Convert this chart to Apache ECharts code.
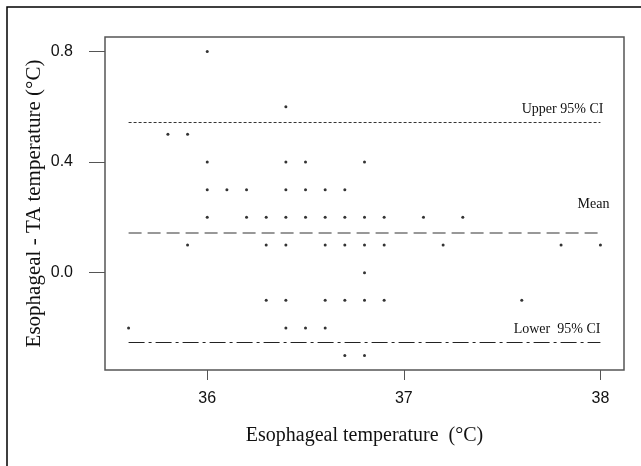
<!DOCTYPE html>
<html>
<head>
<meta charset="utf-8">
<script src="https://cdn.jsdelivr.net/npm/echarts@6/dist/echarts.min.js"></script>
<style>
  html, body { margin: 0; padding: 0; background: #fff; }
  #chart { width: 641px; height: 466px; }
</style>
</head>
<body>
<div id="chart"></div>
<script>
// measurements (x = esophageal temp, y = esophageal - TA difference)
const esoTemp = [
  35.6, 35.8, 35.9, 35.9,
  36.0, 36.0, 36.0, 36.0,
  36.1, 36.2, 36.2,
  36.3, 36.3, 36.3,
  36.4, 36.4, 36.4, 36.4, 36.4, 36.4, 36.4,
  36.5, 36.5, 36.5, 36.5,
  36.6, 36.6, 36.6, 36.6, 36.6,
  36.7, 36.7, 36.7, 36.7, 36.7,
  36.8, 36.8, 36.8, 36.8, 36.8, 36.8,
  36.9, 36.9, 36.9,
  37.1, 37.2, 37.3, 37.6, 37.8, 38.0
];
const diffTemp = [
  -0.2, 0.5, 0.5, 0.1,
  0.8, 0.4, 0.3, 0.2,
  0.3, 0.3, 0.2,
  0.2, 0.1, -0.1,
  0.6, 0.4, 0.3, 0.2, 0.1, -0.1, -0.2,
  0.4, 0.3, 0.2, -0.2,
  0.3, 0.2, 0.1, -0.1, -0.2,
  0.3, 0.2, 0.1, -0.1, -0.3,
  0.4, 0.2, 0.1, 0.0, -0.1, -0.3,
  0.2, 0.1, -0.1,
  0.2, 0.1, 0.2, -0.1, 0.1, 0.1
];

// reference lines
const refNames = ['Upper 95% CI', 'Mean', 'Lower  95% CI'];
const refValues = [0.542, 0.145, -0.253];
const refStart = 35.6;
const refEnd = 38.0;

const xTicks = [36, 37, 38];
const yTicks = [0.0, 0.4, 0.8];

const refStyles = [
  { color: '#333', width: 1, type: [3, 2], labelDist: [-3, 6] },
  { color: '#777', width: 1.5, type: [13, 6], labelDist: [-9, 21] },
  { color: '#222', width: 1, type: [16, 4, 3, 4], labelDist: [0, 6] }
];

const chart = echarts.init(document.getElementById('chart'));

const points = esoTemp.map((x, i) => [x, diffTemp[i]]);

const markData = refValues.map((v, i) => {
  const s = refStyles[i];
  return [
    {
      coord: [refStart, v],
      lineStyle: { color: s.color, width: s.width, type: s.type },
      label: {
        show: true,
        position: 'insideEndTop',
        formatter: refNames[i],
        distance: s.labelDist,
        fontFamily: 'Liberation Serif',
        fontSize: 14,
        color: '#111'
      }
    },
    { coord: [refEnd, v] }
  ];
});

const option = {
  animation: false,
  backgroundColor: '#fff',
  grid: {
    left: 105, right: 17, top: 37, bottom: 96,
    show: true,
    borderColor: '#555',
    borderWidth: 1.5
  },
  graphic: [{
    type: 'rect',
    shape: { x: 7, y: 7, width: 700, height: 600 },
    style: { fill: 'none', stroke: '#000', lineWidth: 1.5 },
    silent: true
  }],
  xAxis: {
    type: 'value',
    min: 35.48, max: 38.12,
    name: 'Esophageal temperature  (°C)',
    nameLocation: 'middle',
    nameGap: 56,
    nameMoveOverlap: false,
    nameTextStyle: { fontFamily: 'Liberation Serif', fontSize: 20, color: '#111' },
    axisLine: { show: false, onZero: false },
    splitLine: { show: false },
    axisTick: { show: true, length: 10, lineStyle: { color: '#555' }, customValues: xTicks },
    axisLabel: {
      customValues: xTicks,
      margin: 21,
      fontFamily: 'Liberation Sans',
      fontSize: 16,
      color: '#111'
    }
  },
  yAxis: {
    type: 'value',
    min: -0.352, max: 0.852,
    name: 'Esophageal - TA temperature (°C)',
    nameLocation: 'middle',
    nameGap: 60,
    nameMoveOverlap: false,
    nameTextStyle: { fontFamily: 'Liberation Serif', fontSize: 21, color: '#111' },
    axisLine: { show: false, onZero: false },
    splitLine: { show: false },
    axisTick: { show: true, length: 16, lineStyle: { color: '#555' }, customValues: yTicks },
    axisLabel: {
      customValues: yTicks,
      margin: 32,
      fontFamily: 'Liberation Sans',
      fontSize: 16,
      color: '#111',
      formatter: v => v.toFixed(1)
    }
  },
  series: [{
    type: 'scatter',
    data: points,
    symbol: 'circle',
    symbolSize: 3,
    itemStyle: { color: '#000' },
    markLine: {
      silent: true,
      symbol: ['none', 'none'],
      data: markData
    }
  }]
};

chart.setOption(option);
</script>
</body>
</html>
